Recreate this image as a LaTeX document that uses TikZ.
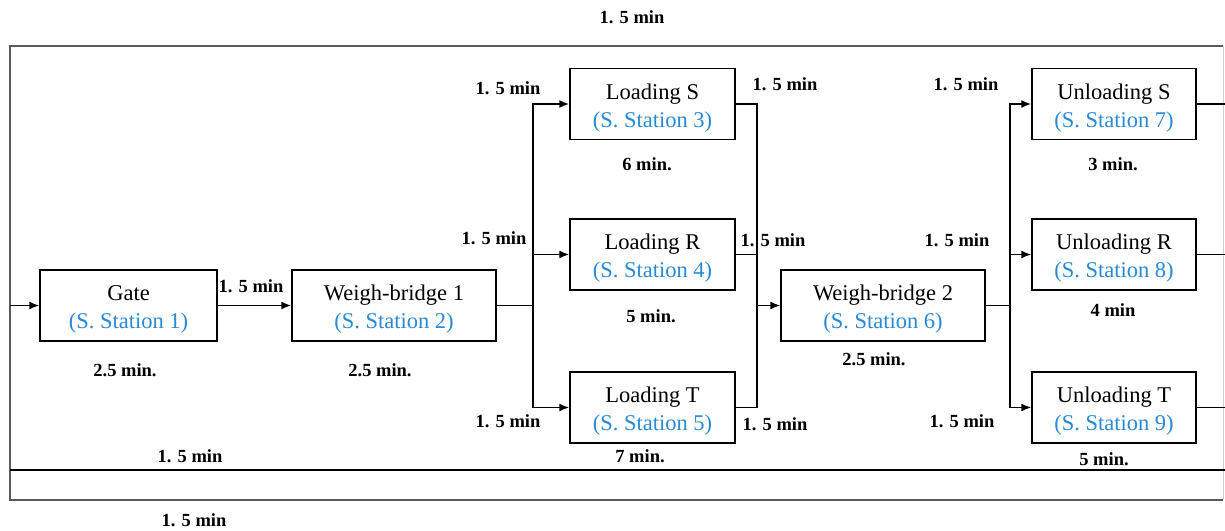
\documentclass[tikz,border=0pt]{standalone}
\usepackage{fontspec}
\setmainfont{Liberation Serif}
\usetikzlibrary{arrows.meta}
\definecolor{stationblue}{RGB}{40,138,214}
\definecolor{framegray}{RGB}{90,90,90}
\definecolor{edgegray}{RGB}{205,205,205}
\tikzset{
  stationbox/.style={draw=black, line width=1.4pt, fill=white, rectangle,
    minimum height=71pt, inner sep=0pt, align=center,
    font=\fontsize{22.5}{28}\selectfont},
  timelabel/.style={inner sep=0pt, font=\fontsize{18.5}{22}\selectfont\bfseries},
  link/.style={draw=black, line width=1.6pt},
  arr/.style={link, -{Latex[length=10pt,width=8pt]}},
}
% two-line station caption: name, then station number in blue
\newcommand{\stn}[2]{\raisebox{-3.5pt}[\height][\depth]{\begin{tabular}{@{}c@{}}#1\\\textcolor{stationblue}{(S. Station #2)}\end{tabular}}}
\begin{document}
\begin{tikzpicture}[x=1pt,y=-1pt]
\useasboundingbox (0,0) rectangle (1225,530);

% outer return loop frame
\coordinate (ftl) at (10,46);
\coordinate (fbl) at (10,500);
\coordinate (ftr) at (1223,46);
\coordinate (fbr) at (1223,500);
\draw[edgegray, line width=1pt] (ftr) -- (fbr);
\draw[framegray, line width=2pt] (ftr) -- (ftl) -- (fbl) -- (fbr);
\coordinate (rl) at (10,470);
\coordinate (rr) at (1225,470);
\draw[link] (rl) -- (rr);

% stations
\node[stationbox, minimum width=177pt] (gate) at (128.5,305.5) {\stn{Gate}{1}};
\node[stationbox, minimum width=204pt] (wb1) at (394,305.5) {\stn{Weigh-bridge 1}{2}};
\node[stationbox, minimum width=165pt] (ls) at (652.5,104) {\stn{Loading S}{3}};
\node[stationbox, minimum width=165pt] (lr) at (652.5,254.5) {\stn{Loading R}{4}};
\node[stationbox, minimum width=165pt] (lt) at (652.5,407.5) {\stn{Loading T}{5}};
\node[stationbox, minimum width=204pt] (wb2) at (883,305.5) {\stn{Weigh-bridge 2}{6}};
\node[stationbox, minimum width=164pt] (us) at (1114,104) {\stn{Unloading S}{7}};
\node[stationbox, minimum width=164pt] (ur) at (1114,254.5) {\stn{Unloading R}{8}};
\node[stationbox, minimum width=164pt] (ut) at (1114,407.5) {\stn{Unloading T}{9}};

% junction points
\coordinate (j1) at (533,305.5);
\coordinate (j2) at (757,305.5);
\coordinate (j3) at (1010,305.5);
\coordinate (rx) at (1225,0);

% flow
\draw[arr] (gate.west -| ftl) -- (gate.west);
\draw[arr] (gate.east) -- (wb1.west);
\draw[link] (wb1.east) -- (j1);
\draw[arr] (j1) |- (ls.west);
\draw[arr] (j1) |- (lr.west);
\draw[arr] (j1) |- (lt.west);
\draw[link] (ls.east) -| (j2);
\draw[link] (lr.east) -| (j2);
\draw[link] (lt.east) -| (j2);
\draw[arr] (j2) -- (wb2.west);
\draw[link] (wb2.east) -- (j3);
\draw[arr] (j3) |- (us.west);
\draw[arr] (j3) |- (ur.west);
\draw[arr] (j3) |- (ut.west);
\draw[link] (us.east) -- (us.east -| rx);
\draw[link] (ur.east) -- (ur.east -| rx);
\draw[link] (ut.east) -- (ut.east -| rx);

% times
\node[timelabel] (t0) at (632,17) {1. 5 min};
\node[timelabel] (t1) at (251,286) {1. 5 min};
\node[timelabel] (t2) at (125,370) {2.5 min.};
\node[timelabel] (t3) at (380,370) {2.5 min.};
\node[timelabel] (t4) at (508,88) {1. 5 min};
\node[timelabel] (t5) at (494,238) {1. 5 min};
\node[timelabel] (t6) at (508,421) {1. 5 min};
\node[timelabel] (t7) at (647,164) {6 min.};
\node[timelabel] (t8) at (651,316) {5 min.};
\node[timelabel] (t9) at (640,456) {7 min.};
\node[timelabel] (t10) at (785,84) {1. 5 min};
\node[timelabel] (t11) at (773,240) {1. 5 min};
\node[timelabel] (t12) at (775,424) {1. 5 min};
\node[timelabel] (t13) at (874,359) {2.5 min.};
\node[timelabel] (t14) at (966,84) {1. 5 min};
\node[timelabel] (t15) at (957,240) {1. 5 min};
\node[timelabel] (t16) at (962,421) {1. 5 min};
\node[timelabel] (t17) at (1113,164) {3 min.};
\node[timelabel] (t18) at (1113,310) {4 min};
\node[timelabel] (t19) at (1104,459) {5 min.};
\node[timelabel] (t20) at (190,456) {1. 5 min};
\node[timelabel] (t21) at (194,520) {1. 5 min};
\end{tikzpicture}
\end{document}
